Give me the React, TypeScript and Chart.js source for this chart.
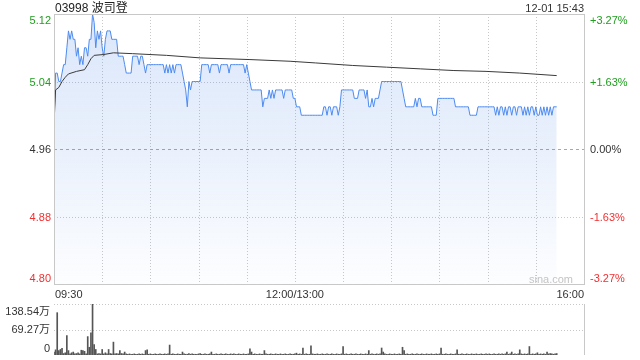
import React, { useEffect, useRef } from "react";
import { Chart, registerables } from "chart.js";

Chart.register(...registerables);

const SESSION_MINUTES = 330;
const GRID_STEP_MINUTES = 30;

const titleText = "03998 波司登";
const timestampText = "12-01 15:43";
const watermarkText = "sina.com";

const priceTicks = [5.12, 5.04, 4.96, 4.88, 4.8];
const priceTickLabels = ["5.12", "5.04", "4.96", "4.88", "4.80"];
const pctTickLabels = ["+3.27%", "+1.63%", "0.00%", "-1.63%", "-3.27%"];
const prevClose = 4.96;

const timeTickMinutes = [0, 150, 330];
const timeTickLabels = ["09:30", "12:00/13:00", "16:00"];

const volumeTicks = [138.54, 69.27, 0];
const volumeTickLabels = ["138.54万", "69.27万", "0"];

// one price per trading minute (09:30 .. 15:43)
const prices = [
  4.99, 5.05, 5.05, 5.04, 5.04, 5.05, 5.06, 5.06, 5.08, 5.10,
  5.09, 5.10, 5.09, 5.09, 5.07, 5.08, 5.06, 5.07, 5.06, 5.08,
  5.08, 5.07, 5.09, 5.09, 5.12, 5.11, 5.08, 5.10, 5.09, 5.10,
  5.08, 5.07, 5.09, 5.10, 5.10, 5.10, 5.09, 5.09, 5.09, 5.09,
  5.07, 5.07, 5.07, 5.07, 5.06, 5.05, 5.05, 5.05, 5.05, 5.07,
  5.07, 5.07, 5.07, 5.06, 5.07, 5.07, 5.06, 5.05, 5.06, 5.06,
  5.06, 5.06, 5.06, 5.06, 5.06, 5.06, 5.06, 5.06, 5.06, 5.05,
  5.06, 5.05, 5.06, 5.05, 5.06, 5.05, 5.06, 5.06, 5.06, 5.06,
  5.05, 5.04, 5.03, 5.01, 5.04, 5.03, 5.04, 5.04, 5.04, 5.04,
  5.04, 5.04, 5.06, 5.06, 5.06, 5.06, 5.06, 5.05, 5.06, 5.06,
  5.06, 5.06, 5.06, 5.05, 5.06, 5.06, 5.06, 5.06, 5.06, 5.05,
  5.06, 5.06, 5.06, 5.06, 5.06, 5.06, 5.06, 5.06, 5.06, 5.05,
  5.06, 5.05, 5.04, 5.03, 5.03, 5.03, 5.03, 5.03, 5.03, 5.03,
  5.01, 5.02, 5.02, 5.02, 5.03, 5.02, 5.03, 5.02, 5.03, 5.03,
  5.03, 5.03, 5.03, 5.02, 5.03, 5.03, 5.03, 5.03, 5.03, 5.02,
  5.02, 5.01, 5.01, 5.01, 5.00, 5.00, 5.00, 5.00, 5.00, 5.00,
  5.00, 5.00, 5.00, 5.00, 5.00, 5.00, 5.00, 5.00, 5.01, 5.01,
  5.00, 5.01, 5.01, 5.00, 5.01, 5.01, 5.01, 5.00, 5.01, 5.03,
  5.03, 5.03, 5.03, 5.03, 5.03, 5.03, 5.03, 5.02, 5.02, 5.02,
  5.03, 5.03, 5.03, 5.03, 5.02, 5.03, 5.01, 5.01, 5.02, 5.01,
  5.02, 5.02, 5.02, 5.03, 5.04, 5.04, 5.04, 5.04, 5.04, 5.04,
  5.04, 5.04, 5.04, 5.04, 5.04, 5.04, 5.04, 5.03, 5.02, 5.01,
  5.01, 5.01, 5.01, 5.01, 5.01, 5.02, 5.01, 5.02, 5.02, 5.01,
  5.01, 5.01, 5.01, 5.01, 5.01, 5.01, 5.00, 5.00, 5.00, 5.02,
  5.02, 5.02, 5.02, 5.02, 5.02, 5.02, 5.02, 5.02, 5.02, 5.02,
  5.01, 5.01, 5.01, 5.01, 5.01, 5.01, 5.01, 5.01, 5.01, 5.00,
  5.00, 5.00, 5.00, 5.00, 5.01, 5.01, 5.01, 5.01, 5.01, 5.01,
  5.01, 5.01, 5.01, 5.01, 5.01, 5.00, 5.01, 5.00, 5.01, 5.01,
  5.00, 5.01, 5.00, 5.01, 5.01, 5.00, 5.01, 5.01, 5.00, 5.01,
  5.01, 5.01, 5.00, 5.01, 5.00, 5.01, 5.00, 5.01, 5.01, 5.00,
  5.01, 5.00, 5.00, 5.01, 5.00, 5.01, 5.00, 5.01, 5.00, 5.01,
  5.00, 5.01, 5.01, 5.01,
];

// average-price line, read at selected minutes
const avgMinutes = [0, 1, 3, 5, 7, 9, 14, 19, 21, 23, 25, 31, 37, 49, 70, 91, 122, 147, 163, 186, 207, 228, 249, 269, 290, 313];
const avgPrices = [4.99, 5.03, 5.033, 5.04, 5.045, 5.049, 5.052, 5.054, 5.06, 5.067, 5.071, 5.072, 5.074, 5.073, 5.071, 5.068, 5.066, 5.064, 5.062, 5.059, 5.057, 5.055, 5.053, 5.052, 5.05, 5.047];

// volume per minute, in 万
const volumes = [
  8, 14, 115, 12, 15, 18, 4, 6, 53, 12,
  3, 6, 8, 3, 4, 6, 3, 13, 12, 10,
  3, 50, 21, 60, 138.5, 28, 15, 3, 4, 3,
  15, 3, 6, 3, 15, 4, 3, 35, 3, 4,
  3, 12, 4, 3, 8, 3, 2, 3, 2, 2,
  3, 2, 2, 3, 2, 3, 2, 12, 14, 2,
  3, 2, 2, 3, 2, 2, 3, 2, 2, 3,
  2, 3, 27, 2, 3, 2, 2, 3, 2, 2,
  8, 3, 2, 2, 4, 2, 3, 2, 2, 2,
  3, 4, 2, 2, 3, 2, 2, 3, 8, 2,
  2, 3, 2, 2, 3, 2, 2, 3, 2, 2,
  3, 2, 3, 2, 2, 3, 2, 2, 3, 2,
  2, 3, 17, 8, 2, 3, 2, 2, 3, 2,
  2, 12, 3, 2, 2, 3, 2, 2, 3, 2,
  2, 3, 2, 2, 3, 2, 2, 3, 2, 2,
  3, 5, 2, 3, 2, 19, 2, 3, 2, 2,
  25, 3, 2, 2, 3, 2, 2, 3, 2, 2,
  3, 2, 2, 3, 2, 2, 3, 2, 2, 3,
  23, 2, 3, 2, 2, 3, 2, 2, 3, 2,
  2, 3, 2, 2, 3, 2, 12, 2, 3, 2,
  2, 3, 2, 3, 19, 8, 3, 2, 2, 3,
  2, 2, 3, 2, 2, 3, 2, 21, 12, 2,
  3, 2, 2, 3, 2, 2, 3, 2, 2, 3,
  2, 2, 3, 2, 2, 3, 2, 2, 3, 2,
  3, 19, 2, 2, 3, 2, 2, 3, 2, 2,
  3, 14, 2, 2, 3, 2, 2, 3, 2, 2,
  3, 2, 2, 3, 2, 2, 3, 2, 2, 3,
  2, 3, 2, 2, 3, 2, 2, 3, 2, 3,
  2, 3, 8, 2, 3, 8, 2, 3, 2, 3,
  14, 3, 2, 3, 2, 3, 23, 2, 3, 2,
  3, 6, 2, 3, 2, 3, 2, 8, 3, 4,
  3, 2, 3, 4,
];

const FONT = '"Liberation Sans", Arial, "Noto Sans CJK SC", sans-serif';
const GREEN = "#1f9e1f";
const RED = "#f23030";
const DARK = "#333333";
const GRID = "#c8c8c8";
const BORDER = "#c8c8c8";
const LINE_BLUE = "#4d8bf0";

function colorFor(v: number) {
  if (v > prevClose + 1e-9) return GREEN;
  if (v < prevClose - 1e-9) return RED;
  return DARK;
}

function hLine(ctx: CanvasRenderingContext2D, x1: number, x2: number, y: number) {
  ctx.beginPath();
  ctx.moveTo(x1, y);
  ctx.lineTo(x2, y);
  ctx.stroke();
}
function vLine(ctx: CanvasRenderingContext2D, x: number, y1: number, y2: number) {
  ctx.beginPath();
  ctx.moveTo(x, y1);
  ctx.lineTo(x, y2);
  ctx.stroke();
}

const priceDecor = {
  id: "priceDecor",
  beforeDatasetsDraw(chart: any) {
    const { ctx, chartArea: a, scales } = chart;
    const xs = scales.x;
    const ys = scales.y;
    ctx.save();
    ctx.lineWidth = 1;
    ctx.strokeStyle = GRID;
    ctx.setLineDash([1, 2]);
    for (let m = GRID_STEP_MINUTES; m < SESSION_MINUTES; m += GRID_STEP_MINUTES) {
      const px = Math.round(xs.getPixelForValue(m)) + 0.5;
      vLine(ctx, px, a.top, a.bottom);
    }
    priceTicks.forEach((v) => {
      const py = Math.round(ys.getPixelForValue(v)) + 0.5;
      if (py <= a.top + 1 || py >= a.bottom - 1) return;
      if (Math.abs(v - prevClose) < 1e-9) {
        ctx.setLineDash([3, 3]);
        ctx.strokeStyle = "#a8a8a8";
      } else {
        ctx.setLineDash([1, 2]);
        ctx.strokeStyle = GRID;
      }
      hLine(ctx, a.left, a.right, py);
    });
    ctx.restore();
  },
  afterDatasetsDraw(chart: any) {
    const { ctx, chartArea: a } = chart;
    ctx.save();
    ctx.lineWidth = 1;
    ctx.strokeStyle = BORDER;
    ctx.setLineDash([]);
    ctx.strokeRect(Math.round(a.left) + 0.5, Math.round(a.top) + 0.5, Math.round(a.right - a.left), Math.round(a.bottom - a.top));
    ctx.restore();
  },
  afterDraw(chart: any) {
    const { ctx, chartArea: a, scales } = chart;
    const xs = scales.x;
    const ys = scales.y;
    ctx.save();
    ctx.font = `11px ${FONT}`;
    ctx.textBaseline = "alphabetic";
    priceTicks.forEach((v, i) => {
      const py = ys.getPixelForValue(v);
      let base = py + 4;
      if (py <= a.top + 1) base = py + 9.5;
      if (py >= a.bottom - 1) base = py - 2.3;
      ctx.fillStyle = colorFor(v);
      ctx.textAlign = "right";
      ctx.fillText(priceTickLabels[i], a.left - 3, base);
      ctx.textAlign = "left";
      ctx.fillText(pctTickLabels[i], a.right + 6, base);
    });
    ctx.fillStyle = DARK;
    timeTickMinutes.forEach((m, i) => {
      const px = xs.getPixelForValue(m);
      ctx.textAlign = i === 0 ? "left" : i === timeTickMinutes.length - 1 ? "right" : "center";
      ctx.fillText(timeTickLabels[i], px + (i === 0 ? 1 : 0), a.bottom + 13.5);
    });
    ctx.fillStyle = "#c4c4c4";
    ctx.textAlign = "right";
    ctx.fillText(watermarkText, a.right - 11, a.bottom - 1.5);

    ctx.fillStyle = "#222";
    ctx.font = `12px ${FONT}`;
    ctx.textAlign = "left";
    ctx.fillText(titleText, a.left + 1, 12);
    ctx.font = `11px ${FONT}`;
    ctx.textAlign = "right";
    ctx.fillStyle = "#333";
    ctx.fillText(timestampText, a.right, 12);
    ctx.restore();
  },
};

const volumeDecor = {
  id: "volumeDecor",
  beforeDatasetsDraw(chart: any) {
    const { ctx, chartArea: a, scales } = chart;
    const ys = scales.y;
    ctx.save();
    ctx.lineWidth = 1;
    ctx.strokeStyle = GRID;
    ctx.setLineDash([1, 2]);
    volumeTicks.forEach((v) => {
      if (v === 0) return;
      const py = Math.round(ys.getPixelForValue(v)) + 0.5;
      hLine(ctx, a.left, a.right, py);
    });
    ctx.setLineDash([]);
    ctx.strokeStyle = BORDER;
    vLine(ctx, Math.round(a.right) + 0.5, a.top, a.bottom);
    ctx.restore();
  },
  afterDraw(chart: any) {
    const { ctx, chartArea: a, scales } = chart;
    const ys = scales.y;
    ctx.save();
    ctx.font = `11px ${FONT}`;
    ctx.fillStyle = DARK;
    ctx.textAlign = "right";
    ctx.textBaseline = "alphabetic";
    volumeTicks.forEach((v, i) => {
      const py = ys.getPixelForValue(v);
      let base = py + 3.5;
      if (py <= a.top + 1) base = py + 11;
      if (py >= a.bottom - 1) base = py - 3.3;
      ctx.fillText(volumeTickLabels[i], a.left - 4, base);
    });
    ctx.restore();
  },
};

export default function App() {
  const priceRef = useRef<HTMLCanvasElement>(null);
  const volRef = useRef<HTMLCanvasElement>(null);

  useEffect(() => {
    const priceData = prices.map((p, i) => ({ x: i, y: p }));
    const avgData = avgMinutes.map((m, i) => ({ x: m, y: avgPrices[i] }));
    const volData = volumes.map((v, i) => ({ x: i, y: v }));

    const pc = new Chart(priceRef.current as HTMLCanvasElement, {
      type: "line",
      data: {
        datasets: [
          {
            data: avgData,
            borderColor: "#3a3a3a",
            borderWidth: 1,
            pointRadius: 0,
            fill: false,
            tension: 0,
          },
          {
            data: priceData,
            borderColor: LINE_BLUE,
            borderWidth: 1,
            pointRadius: 0,
            tension: 0,
            fill: "start",
            backgroundColor: (c: any) => {
              const chart = c.chart;
              const area = chart.chartArea;
              if (!area) return "rgba(70,130,230,0.12)";
              const g = chart.ctx.createLinearGradient(0, area.top, 0, area.bottom);
              g.addColorStop(0, "rgba(60,125,230,0.19)");
              g.addColorStop(0.5, "rgba(60,125,230,0.11)");
              g.addColorStop(1, "rgba(60,125,230,0.01)");
              return g;
            },
          },
        ],
      },
      options: {
        responsive: false,
        animation: false,
        devicePixelRatio: 1,
        events: [],
        layout: { padding: { left: 54, right: 56, top: 14, bottom: 16 } },
        plugins: { legend: { display: false }, tooltip: { enabled: false } },
        scales: {
          x: { type: "linear", min: 0, max: SESSION_MINUTES, display: false },
          y: { type: "linear", min: priceTicks[priceTicks.length - 1], max: priceTicks[0], display: false },
        },
      },
      plugins: [priceDecor],
    } as any);

    const vc = new Chart(volRef.current as HTMLCanvasElement, {
      type: "bar",
      data: {
        datasets: [
          {
            data: volData,
            backgroundColor: "#555555",
            barThickness: 1,
            borderWidth: 0,
          },
        ],
      },
      options: {
        responsive: false,
        animation: false,
        devicePixelRatio: 1,
        events: [],
        layout: { padding: { left: 54, right: 56, top: 4, bottom: 5 } },
        plugins: { legend: { display: false }, tooltip: { enabled: false } },
        scales: {
          x: { type: "linear", min: 0, max: SESSION_MINUTES, display: false, offset: false },
          y: { type: "linear", min: 0, max: volumeTicks[0], display: false },
        },
      },
      plugins: [volumeDecor],
    } as any);

    return () => {
      pc.destroy();
      vc.destroy();
    };
  }, []);

  return (
    <div style={{ position: "fixed", left: 0, top: 0, width: 640, height: 360, background: "#fff", overflow: "hidden" }}>
      <canvas ref={priceRef} width={640} height={300} style={{ position: "absolute", left: 0, top: 0, width: 640, height: 300 }} />
      <canvas ref={volRef} width={640} height={60} style={{ position: "absolute", left: 0, top: 300, width: 640, height: 60 }} />
    </div>
  );
}
